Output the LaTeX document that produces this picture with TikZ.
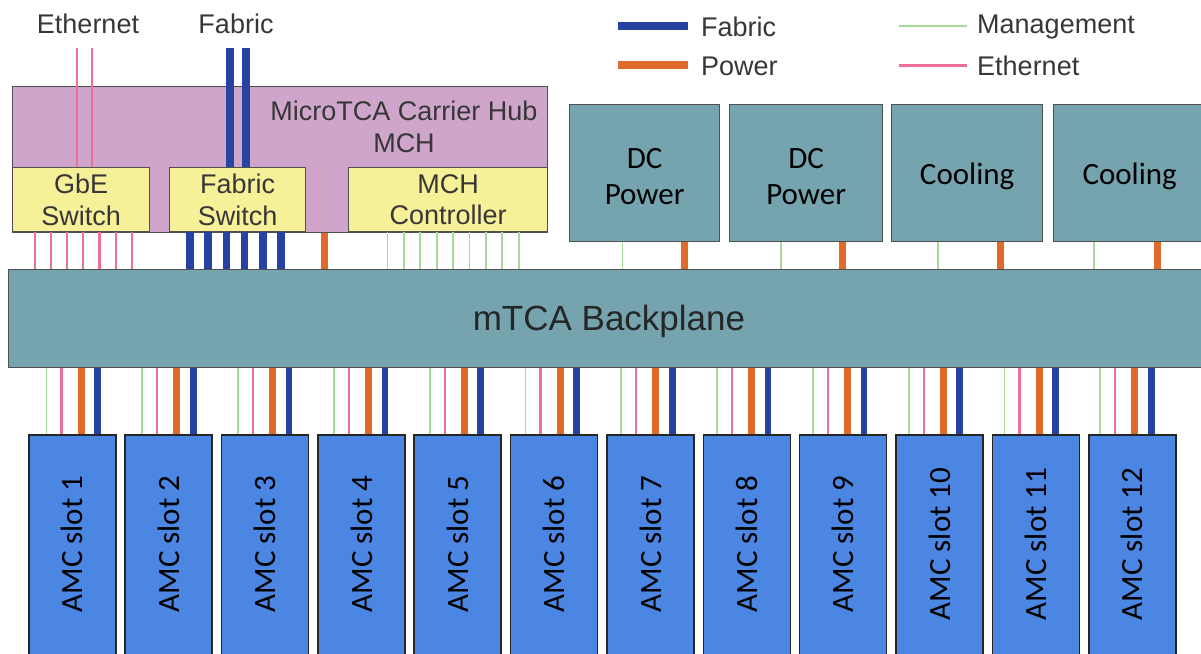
\documentclass[tikz,border=0pt]{standalone}
\usepackage{fontspec}
\setmainfont{Liberation Sans}
\newfontfamily\calib{Carlito}
\usetikzlibrary{calc}

\definecolor{mchpurple}{RGB}{207,165,203}
\definecolor{swyellow}{RGB}{246,240,152}
\definecolor{tealfill}{RGB}{117,164,175}
\definecolor{amcblue}{RGB}{74,134,226}
\definecolor{fabblue}{RGB}{40,66,162}
\definecolor{pwrorange}{RGB}{224,106,44}
\definecolor{mgmtgreen}{RGB}{165,220,150}
\definecolor{ethpink}{RGB}{238,112,150}
\definecolor{edge}{RGB}{80,80,80}
\definecolor{txt}{RGB}{55,55,55}

\tikzset{
  panel/.style={draw=edge, line width=1.3pt, inner sep=0pt, anchor=north west},
  hubbox/.style={panel, fill=mchpurple},
  switchbox/.style={panel, fill=swyellow},
  tealbox/.style={panel, fill=tealfill},
  amcbox/.style={draw=black!85, line width=1.6pt, fill=amcblue, inner sep=0pt, anchor=north west,
    minimum width=87pt, minimum height=240pt},
  arialtxt/.style={font=\fontsize{27}{31.5}\selectfont, text=txt, align=center, inner sep=0pt},
  calibtxt/.style={font=\calib\fontsize{31}{36}\selectfont, text=black, align=center, inner sep=0pt},
  fabline/.style={draw=fabblue, line width=7.5pt},
  pwrline/.style={draw=pwrorange, line width=7pt},
  mgmtline/.style={draw=mgmtgreen, line width=1.8pt},
  ethline/.style={draw=ethpink, line width=2.2pt},
}

\begin{document}
\begin{tikzpicture}[x=1pt, y=-1pt]
\useasboundingbox (0,0) rectangle (1201,653);

% ---------------- legend ----------------
\coordinate (lgA1) at (618,26);  \coordinate (lgA2) at (688,26);
\coordinate (lgB1) at (618,65);  \coordinate (lgB2) at (688,65);
\coordinate (lgC1) at (899,26);  \coordinate (lgC2) at (967,26);
\coordinate (lgD1) at (899,65);  \coordinate (lgD2) at (967,65);
\draw[fabline, line width=8.5pt] (lgA1) -- (lgA2);
\draw[pwrline, line width=8.5pt] (lgB1) -- (lgB2);
\draw[mgmtline] (lgC1) -- (lgC2);
\draw[ethline, line width=3pt] (lgD1) -- (lgD2);
\node[arialtxt, anchor=west] (lgfab) at (701,27) {Fabric};
\node[arialtxt, anchor=west] (lgpwr) at (701,66) {Power};
\node[arialtxt, anchor=west] (lgmgmt) at (977,27) {Management};
\node[arialtxt, anchor=west] (lgeth) at (977,66) {Ethernet};

% ---------------- MCH ----------------
\node[hubbox, minimum width=535pt, minimum height=146pt] (mch) at (12,86) {};
\node[arialtxt] (mchlbl) at (404,127) {MicroTCA Carrier Hub\\MCH};
\node[switchbox, minimum width=137pt, minimum height=64pt] (gbe) at (12,167) {};
\node[arialtxt] (gbelbl) at (gbe.center) {GbE\\Switch};
\node[switchbox, minimum width=136pt, minimum height=64pt] (fsw) at (169,167) {};
\node[arialtxt] (fswlbl) at (fsw.center) {Fabric\\Switch};
\node[switchbox, minimum width=199pt, minimum height=64pt] (ctl) at (348,167) {};
\node[arialtxt] (ctllbl) at (ctl.center) {MCH\\Controller};

% external links into the hub
\node[arialtxt] (extEth) at (88,24) {Ethernet};
\node[arialtxt] (extFab) at (236,24) {Fabric};
\coordinate (e1) at (77,48);  \coordinate (e2) at (92,48);
\coordinate (f1) at (230,48); \coordinate (f2) at (246,48);
\draw[ethline] (e1) -- (e1 |- gbe.north);
\draw[ethline] (e2) -- (e2 |- gbe.north);
\draw[fabline] (f1) -- (f1 |- fsw.north);
\draw[fabline] (f2) -- (f2 |- fsw.north);

% ---------------- power and cooling modules ----------------
\node[tealbox, minimum width=150pt, minimum height=137pt] (dc1) at (569,104) {};
\node[tealbox, minimum width=153pt, minimum height=137pt] (dc2) at (729,104) {};
\node[tealbox, minimum width=151pt, minimum height=137pt] (cl1) at (891,104) {};
\node[tealbox, minimum width=152pt, minimum height=137pt] (cl2) at (1053,104) {};
\node[calibtxt] (dc1lbl) at ($(dc1.center)+(0,3)$) {DC\\Power};
\node[calibtxt] (dc2lbl) at ($(dc2.center)+(0,3)$) {DC\\Power};
\node[calibtxt] (cl1lbl) at ($(cl1.center)+(0,3)$) {Cooling};
\node[calibtxt] (cl2lbl) at ($(cl2.center)+(0,3)$) {Cooling};

% ---------------- backplane ----------------
\node[tealbox, minimum width=1200pt, minimum height=98pt] (bp) at (8,269) {};
\node[arialtxt, font=\fontsize{35}{40}\selectfont, text=black!85] (bplbl) at (609,321) {mTCA Backplane};

% hub to backplane
\foreach \i in {0,...,6} {
  \path (gbe.south west) ++(22.6+16.2*\i,0) coordinate (p);
  \draw[ethline] (p) -- (p |- bp.north);
}
\foreach \i in {0,...,5} {
  \path (fsw.south west) ++(21+18.2*\i,0) coordinate (p);
  \draw[fabline] (p) -- (p |- bp.north);
}
\path (mch.south west) ++(312,0) coordinate (p);
\draw[pwrline] (p) -- (p |- bp.north);
\foreach \i in {0,...,8} {
  \path (ctl.south west) ++(39.5+16.4*\i,0) coordinate (p);
  \draw[mgmtline] (p) -- (p |- bp.north);
}

% modules to backplane
\foreach \m/\g/\o in {dc1/53.5/115.7, dc2/52/113, cl1/47/109, cl2/41/104} {
  \path (\m.south west) ++(\g,0) coordinate (p);
  \draw[mgmtline] (p) -- (p |- bp.north);
  \path (\m.south west) ++(\o,0) coordinate (p);
  \draw[pwrline] (p) -- (p |- bp.north);
}

% ---------------- AMC slots ----------------
\foreach \k in {1,...,12} {
  \pgfmathsetmacro\xl{28+96.36*(\k-1)}
  \pgfmathsetmacro\dx{18.5-0.56*(\k-1)}
  \node[amcbox] (slot\k) at (\xl,434) {};
  \node[calibtxt, rotate=90] (slot\k lbl) at ($(slot\k.north)+(0,110)$) {AMC slot \k};
  \path (slot\k.north west) ++(\dx,0) coordinate (p);
  \draw[mgmtline] (p) -- (p |- bp.south);
  \path (slot\k.north west) ++(\dx+15,0) coordinate (p);
  \draw[ethline] (p) -- (p |- bp.south);
  \path (slot\k.north west) ++(\dx+34.5,0) coordinate (p);
  \draw[pwrline] (p) -- (p |- bp.south);
  \path (slot\k.north west) ++(\dx+51,0) coordinate (p);
  \draw[fabline, line width=6.5pt] (p) -- (p |- bp.south);
}
\end{tikzpicture}
\end{document}
